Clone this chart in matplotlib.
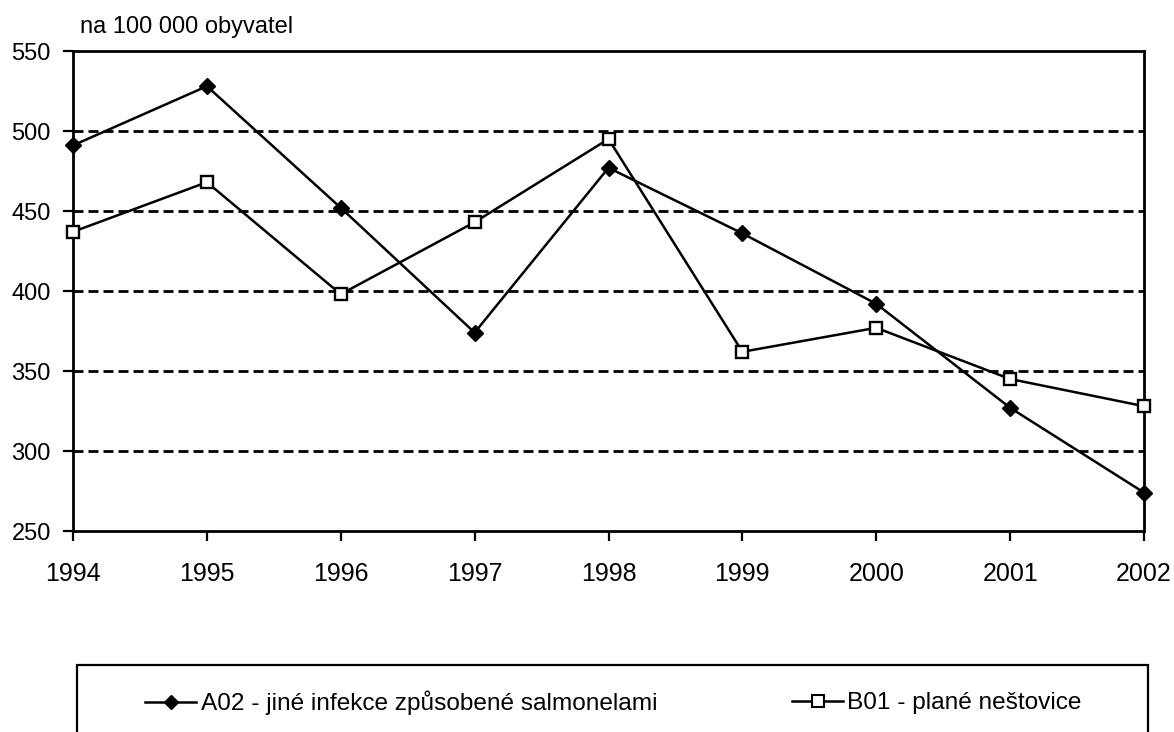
import matplotlib.pyplot as plt
from matplotlib.patches import Rectangle
from matplotlib.lines import Line2D

plt.rcParams['font.family'] = ['Liberation Sans', 'DejaVu Sans']

# === DATA ===
years = [1994, 1995, 1996, 1997, 1998, 1999, 2000, 2001, 2002]
a02_values = [491, 528, 452, 374, 477, 436, 392, 327, 274]
b01_values = [437, 468, 398, 443, 495, 362, 377, 345, 328]
a02_label = "A02 - jiné infekce způsobené salmonelami"
b01_label = "B01 - plané neštovice"
y_unit = "na 100 000 obyvatel"
y_ticks = [250, 300, 350, 400, 450, 500, 550]

W, H = 1174, 732
fig = plt.figure(figsize=(W / 100, H / 100), dpi=100)
ax = fig.add_axes([73 / W, 1 - 531 / H, (1144 - 73) / W, (531 - 51) / H])

# dashed horizontal grid
for yv in y_ticks[1:-1]:
    ax.axhline(yv, color='black', lw=2, linestyle=(0, (3.6, 1.8)), zorder=1)

ax.plot(years, a02_values, color='black', lw=1.8, marker='D', markersize=7.8,
        markerfacecolor='black', markeredgecolor='black', markeredgewidth=1,
        zorder=5, clip_on=False)
ax.plot(years, b01_values, color='black', lw=1.8, marker='s', markersize=9,
        markerfacecolor='white', markeredgecolor='black', markeredgewidth=1.7,
        zorder=5, clip_on=False)

ax.set_xlim(years[0], years[-1])
ax.set_ylim(y_ticks[0], y_ticks[-1])
ax.set_xticks(years)
ax.set_yticks(y_ticks)

for s in ax.spines.values():
    s.set_linewidth(2)
    s.set_zorder(4)

ax.tick_params(axis='x', direction='out', length=7, width=1.6, pad=15, labelsize=18)
ax.tick_params(axis='y', direction='out', length=7, width=1.6, pad=9, labelsize=17)

fig.text(80 / W, 1 - 33 / H, y_unit, fontsize=17, va='baseline', ha='left')

# legend box, its bottom edge runs off the figure
fig.patches.append(Rectangle((77 / W, -20 / H), (1148 - 77) / W, (H - 665 + 20) / H,
                             transform=fig.transFigure, fill=False, edgecolor='black', lw=1.6))

h_a02 = Line2D([], [], color='black', lw=1.8, marker='D', markersize=7.5,
               markerfacecolor='black', markeredgecolor='black')
h_b01 = Line2D([], [], color='black', lw=1.8, marker='s', markersize=8,
               markerfacecolor='white', markeredgecolor='black', markeredgewidth=1.5)

fig.legend([h_a02], [a02_label], loc='center left', bbox_to_anchor=(145 / W, 1 - 703 / H),
           frameon=False, fontsize=17.6, handlelength=2.1, handletextpad=0.2,
           borderpad=0, borderaxespad=0)
fig.legend([h_b01], [b01_label], loc='center left', bbox_to_anchor=(792 / W, 1 - 703 / H),
           frameon=False, fontsize=17.6, handlelength=2.1, handletextpad=0.15,
           borderpad=0, borderaxespad=0)

fig.savefig('out.png', dpi=100)
